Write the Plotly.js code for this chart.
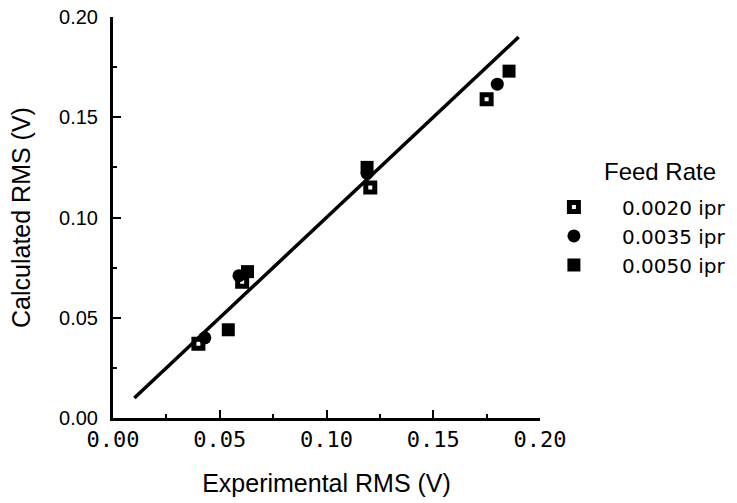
<!DOCTYPE html>
<html>
<head>
<meta charset="utf-8">
<script src="https://cdn.plot.ly/plotly-3.0.1.min.js"></script>
<style>html,body{margin:0;padding:0;background:#fff}#chart{width:737px;height:503px}</style>
</head>
<body>
<div id="chart"></div>
<script>
// Feed rate 0.0020 ipr
const x020 = [0.040, 0.0605, 0.1205, 0.175];
const y020 = [0.037, 0.068, 0.115, 0.159];
// Feed rate 0.0035 ipr
const x035 = [0.043, 0.059, 0.119, 0.180];
const y035 = [0.040, 0.071, 0.122, 0.1665];
// Feed rate 0.0050 ipr
const x050 = [0.054, 0.063, 0.119, 0.1855];
const y050 = [0.044, 0.073, 0.125, 0.173];
// fit line
const fitX = [0.01, 0.19];
const fitY = [0.01, 0.19];
const seriesNames = ["0.0020 ipr", "0.0035 ipr", "0.0050 ipr"];
const legendTitle = "Feed Rate";

const font = "Liberation Sans, Arial, sans-serif";
const traces = [
  {x: fitX, y: fitY, mode: "lines", line: {color: "black", width: 3.5}, showlegend: false, hoverinfo: "skip"},
  {x: x020, y: y020, mode: "markers", name: seriesNames[0],
   marker: {symbol: "square-open", size: 9, color: "black", line: {color: "black", width: 5}}},
  {x: x035, y: y035, mode: "markers", name: seriesNames[1],
   marker: {symbol: "circle", size: 13, color: "black", line: {width: 0}}},
  {x: x050, y: y050, mode: "markers", name: seriesNames[2],
   marker: {symbol: "square", size: 13, color: "black", line: {width: 0}}}
];

const layout = {
  width: 737, height: 503,
  margin: {l: 113, r: 197, t: 17, b: 85, autoexpand: false},
  paper_bgcolor: "white", plot_bgcolor: "white",
  font: {family: font, size: 20, color: "black"},
  showlegend: true,
  legend: {
    x: 0.967, xanchor: "left", y: 0.454, yanchor: "middle",
    font: {family: "DejaVu Sans, sans-serif", size: 20}, itemwidth: 86, tracegroupgap: 0,
    bgcolor: "rgba(0,0,0,0)"
  },
  annotations: [
    {text: legendTitle, xref: "paper", yref: "paper", x: 1.281, y: 0.6135,
     xanchor: "center", yanchor: "middle", showarrow: false, font: {size: 24}}
  ],
  xaxis: {
    range: [0, 0.2], dtick: 0.05, tickformat: ".2f",
    showgrid: false, zeroline: false, showline: true, linecolor: "black", linewidth: 3,
    ticks: "inside", ticklen: 8, tickwidth: 2, tickcolor: "black",
    minor: {dtick: 0.025, ticks: "inside", ticklen: 4, tickwidth: 2, tickcolor: "black"},
    tickfont: {family: "DejaVu Sans Mono, monospace", size: 22},
    title: {text: "Experimental RMS (V)", font: {size: 25}, standoff: 24}
  },
  yaxis: {
    range: [0, 0.2], dtick: 0.05, tickformat: ".2f",
    showgrid: false, zeroline: false, showline: true, linecolor: "black", linewidth: 3,
    ticks: "inside", ticklen: 8, tickwidth: 2, tickcolor: "black",
    minor: {dtick: 0.025, ticks: "inside", ticklen: 4, tickwidth: 2, tickcolor: "black"},
    tickfont: {size: 20}, ticklabelstandoff: 8,
    title: {text: "Calculated RMS (V)", font: {size: 25}, standoff: 22}
  }
};

Plotly.newPlot("chart", traces, layout, {displayModeBar: false, staticPlot: true});
</script>
</body>
</html>
